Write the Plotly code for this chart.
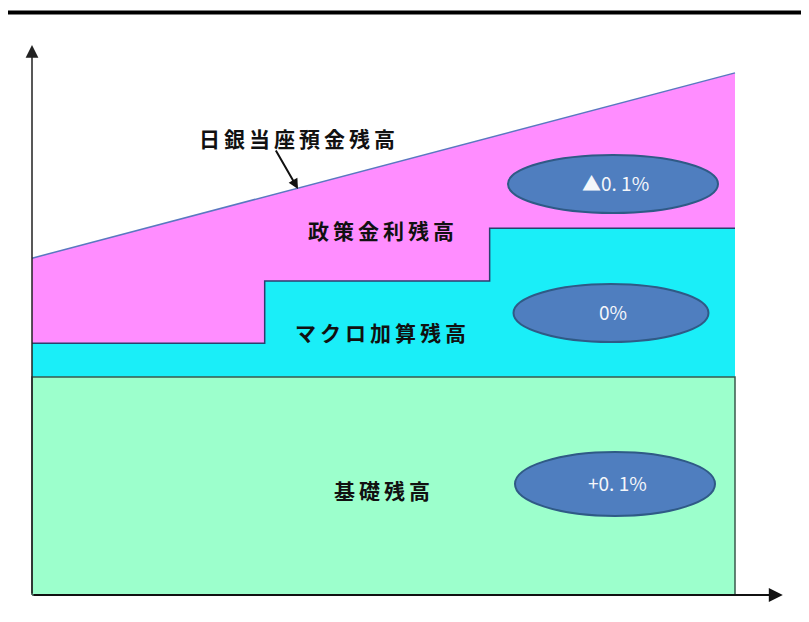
import plotly.graph_objects as go

# ---- data (conceptual units) ----
step_x = [0, 3.31, 6.51, 10]          # time breakpoints
basic_level = 4.0                     # 基礎残高
macro_tops = [4.62, 5.76, 6.73]       # top of マクロ加算残高 per step
ca_x = [0, 10]
ca_line = [6.18, 9.58]                # 日銀当座預金残高
rates = ["▲0. 1%", "0%", "+0. 1%"]
tier_labels = ["政策金利残高", "マクロ加算残高", "基礎残高"]
axis_top = 10.09
axis_right = 10.68

W, H = 809, 622
OFF = 8  # page body margin
px_x, px_y = 70.3, 54.5
x0_px, y0_px = 32, 595

def xv(p):
    return (p - x0_px) / px_x

def yv(p):
    return (y0_px - p) / px_y

xr = [xv(OFF), xv(OFF + W)]
yr = [yv(OFF + H), yv(OFF)]

def px_paper_x(p):
    return (p - OFF) / W

def px_paper_y(p):
    return 1 - (p - OFF) / H

MAG = "#FF8DFF"
CYAN = "#1AEEF8"
GREEN = "#9CFFCC"

fig = go.Figure()

# magenta: between step tops and current-account line
mx = [step_x[0], ca_x[0], ca_x[1], step_x[3], step_x[2], step_x[2], step_x[1], step_x[1], step_x[0]]
my = [macro_tops[0], ca_line[0], ca_line[1], macro_tops[2], macro_tops[2], macro_tops[1], macro_tops[1], macro_tops[0], macro_tops[0]]
fig.add_trace(go.Scatter(x=mx, y=my, fill="toself", fillcolor=MAG, mode="lines",
                         line=dict(width=0, color=MAG), hoverinfo="skip"))

# cyan steps
cx = [step_x[0], step_x[0], step_x[1], step_x[1], step_x[2], step_x[2], step_x[3], step_x[3], step_x[0]]
cy = [basic_level, macro_tops[0], macro_tops[0], macro_tops[1], macro_tops[1], macro_tops[2], macro_tops[2], basic_level, basic_level]
fig.add_trace(go.Scatter(x=cx, y=cy, fill="toself", fillcolor=CYAN, mode="lines",
                         line=dict(width=0, color=CYAN), hoverinfo="skip"))
# step outline
fig.add_trace(go.Scatter(x=cx[1:7], y=cy[1:7], mode="lines",
                         line=dict(width=1.5, color="#2B3F6E"), hoverinfo="skip"))

# green basic
gx = [step_x[0], step_x[0], step_x[3], step_x[3], step_x[0]]
gy = [0, basic_level, basic_level, 0, 0]
fig.add_trace(go.Scatter(x=gx, y=gy, fill="toself", fillcolor=GREEN, mode="lines",
                         line=dict(width=1.5, color="#3A5A4C"), hoverinfo="skip"))

# current account line
fig.add_trace(go.Scatter(x=ca_x, y=ca_line, mode="lines",
                         line=dict(width=1.5, color="#5A78C0"), hoverinfo="skip"))

shapes = []
# top rule and faint right border
shapes.append(dict(type="line", xref="paper", yref="paper", x0=0, x1=1,
                   y0=px_paper_y(12.5), y1=px_paper_y(12.5), line=dict(color="black", width=4)))
shapes.append(dict(type="line", xref="paper", yref="paper", x0=px_paper_x(806), x1=px_paper_x(806),
                   y0=0, y1=px_paper_y(16), line=dict(color="#E2E2E2", width=1.5)))

# ellipses
ell = [(613, 184, 210, 58), (611, 313, 195, 58), (615, 484, 200, 64)]
for (cxp, cyp, w, h), t in zip(ell, rates):
    shapes.append(dict(type="circle", xref="x", yref="y",
                       x0=xv(cxp - w / 2), x1=xv(cxp + w / 2),
                       y0=yv(cyp + h / 2), y1=yv(cyp - h / 2),
                       fillcolor="#4F7EBF", line=dict(color="#2F5A86", width=2), layer="above"))

annotations = []
for (cxp, cyp, w, h), t in zip(ell, rates):
    annotations.append(dict(x=xv(cxp + 2), y=yv(cyp - 2), text=t, showarrow=False,
                            font=dict(size=19, color="#F4F6FA", family="Noto Sans CJK JP")))

lab_pos = [(383, 230), (382, 332), (384, 490)]
for (lx, ly), t in zip(lab_pos, tier_labels):
    annotations.append(dict(x=xv(lx), y=yv(ly), showarrow=False,
                            text='<b><span style="letter-spacing:4px">' + t + '</span></b>',
                            font=dict(size=21, color="#111111", family="Noto Sans CJK JP")))

annotations.append(dict(x=xv(299), y=yv(138), showarrow=False,
                        text='<b><span style="letter-spacing:4px">日銀当座預金残高</span></b>',
                        font=dict(size=21, color="#111111", family="Noto Sans CJK JP")))
# pointer arrow
annotations.append(dict(x=xv(298), y=yv(189), ax=xv(275), ay=yv(149), axref="x", ayref="y",
                        text="", showarrow=True, arrowhead=2, arrowsize=1, arrowwidth=2,
                        arrowcolor="#111111"))

# axes arrows
annotations.append(dict(x=0, y=axis_top, ax=0, ay=0, axref="x", ayref="y", text="",
                        showarrow=True, arrowhead=2, arrowsize=1.7, arrowwidth=1.5,
                        arrowcolor="#222222"))
annotations.append(dict(x=axis_right, y=0, ax=0, ay=0, axref="x", ayref="y", text="",
                        showarrow=True, arrowhead=2, arrowsize=1.4, arrowwidth=2,
                        arrowcolor="#111111"))

fig.update_layout(
    width=W, height=H, margin=dict(l=0, r=0, t=0, b=0),
    paper_bgcolor="white", plot_bgcolor="white", showlegend=False,
    xaxis=dict(range=xr, visible=False, fixedrange=True),
    yaxis=dict(range=yr, visible=False, fixedrange=True),
    shapes=shapes, annotations=annotations,
)

fig.write_html("out.html")
